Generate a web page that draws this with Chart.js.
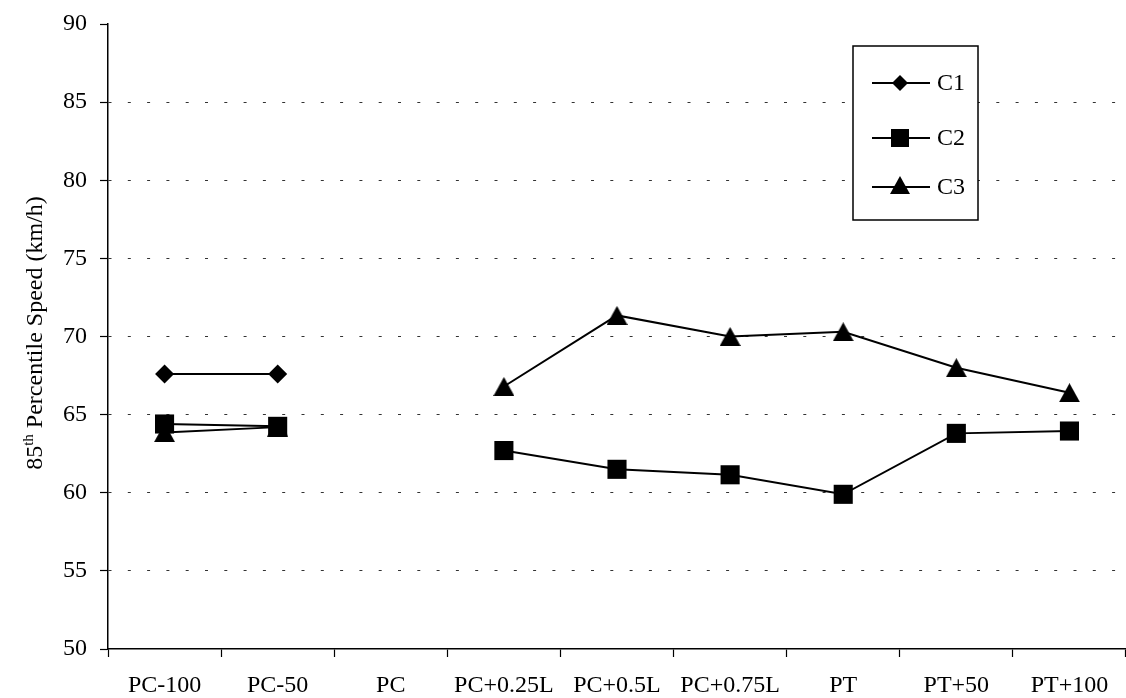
<!DOCTYPE html>
<html>
<head>
<meta charset="utf-8">
<script src="https://cdn.jsdelivr.net/npm/chart.js@4/dist/chart.umd.min.js"></script>
<style>
  html, body { margin: 0; padding: 0; background: #fff; }
  #wrap { width: 1126px; height: 698px; position: relative; }
</style>
</head>
<body>
<div id="wrap"><canvas id="c" width="1126" height="698"></canvas></div>
<script>
const categories = ['PC-100', 'PC-50', 'PC', 'PC+0.25L', 'PC+0.5L', 'PC+0.75L', 'PT', 'PT+50', 'PT+100'];
const c1Values = [67.6, 67.6, null, null, null, null, null, null, null];
const c2Values = [64.4, 64.25, null, 62.7, 61.5, 61.15, 59.9, 63.8, 63.95];
const c3Values = [63.85, 64.2, null, 66.8, 71.35, 70.0, 70.3, 68.0, 66.4];
const seriesNames = ['C1', 'C2', 'C3'];
const yTicks = [50, 55, 60, 65, 70, 75, 80, 85, 90];
const yTitleMain = '85';
const yTitleSup = 'th';
const yTitleRest = ' Percentile Speed (km/h)';

const FONT = '"Liberation Serif", "Times New Roman", serif';

// triangle marker centred on its bounding box
function makeTriangle(w, h) {
  const cv = document.createElement('canvas');
  cv.width = w; cv.height = h;
  const c = cv.getContext('2d');
  c.fillStyle = '#000';
  c.beginPath();
  c.moveTo(w / 2, 0); c.lineTo(w, h); c.lineTo(0, h);
  c.closePath(); c.fill();
  return cv;
}
const triangleImg = makeTriangle(21, 19);

const markerStyles = ['rectRot', 'rect', triangleImg];
const markerRadii = [9.5, 13.5, 10];

function drawMarker(ctx, i, x, y) {
  ctx.beginPath();
  if (i === 0) {
    const r = 8;
    ctx.moveTo(x, y - r); ctx.lineTo(x + r, y); ctx.lineTo(x, y + r); ctx.lineTo(x - r, y);
  } else if (i === 1) {
    const s = 9;
    ctx.rect(x - s, y - s, 2 * s, 2 * s);
  } else {
    const w = 20, h = 18;
    ctx.moveTo(x, y - h / 2 - 2); ctx.lineTo(x + w / 2, y + h / 2 - 2); ctx.lineTo(x - w / 2, y + h / 2 - 2);
  }
  ctx.closePath();
  ctx.fill();
}

const customPlugin = {
  id: 'custom',
  afterDraw(chart) {
    const ctx = chart.ctx;
    ctx.save();
    // Y-axis title with superscript
    ctx.translate(42, 333);
    ctx.rotate(-Math.PI / 2);
    ctx.fillStyle = '#000';
    ctx.textBaseline = 'alphabetic';
    ctx.font = '24px ' + FONT;
    const wMain = ctx.measureText(yTitleMain).width;
    ctx.font = '15px ' + FONT;
    const wSup = ctx.measureText(yTitleSup).width;
    ctx.font = '24px ' + FONT;
    const wRest = ctx.measureText(yTitleRest).width;
    let x0 = -(wMain + wSup + wRest) / 2;
    ctx.textAlign = 'left';
    ctx.fillText(yTitleMain, x0, 0);
    ctx.font = '15px ' + FONT;
    ctx.fillText(yTitleSup, x0 + wMain, -9);
    ctx.font = '24px ' + FONT;
    ctx.fillText(yTitleRest, x0 + wMain + wSup, 0);
    ctx.restore();

    // Legend
    ctx.save();
    ctx.fillStyle = '#fff';
    ctx.fillRect(853, 46, 125, 174);
    ctx.strokeStyle = '#000';
    ctx.lineWidth = 1.5;
    ctx.strokeRect(853, 46, 125, 174);
    const rowsY = [83, 138, 187];
    chart.data.datasets.forEach((ds, i) => {
      const y = rowsY[i];
      ctx.strokeStyle = '#000';
      ctx.lineWidth = 2;
      ctx.beginPath(); ctx.moveTo(872, y); ctx.lineTo(930, y); ctx.stroke();
      ctx.fillStyle = '#000';
      drawMarker(ctx, i, 900, y);
      ctx.font = '24px ' + FONT;
      ctx.textBaseline = 'middle';
      ctx.textAlign = 'left';
      ctx.fillText(ds.label, 937, y + 1);
    });
    ctx.restore();
  }
};

const datasets = [c1Values, c2Values, c3Values].map((vals, i) => ({
  label: seriesNames[i],
  data: vals,
  borderColor: '#000',
  backgroundColor: '#000',
  borderWidth: 2,
  pointStyle: markerStyles[i],
  pointRadius: markerRadii[i],
  pointHoverRadius: markerRadii[i],
  pointBackgroundColor: '#000',
  pointBorderColor: '#000',
  pointBorderWidth: 0,
  spanGaps: false,
  tension: 0,
  clip: false
}));

new Chart(document.getElementById('c'), {
  type: 'line',
  data: { labels: categories, datasets },
  plugins: [customPlugin],
  options: {
    responsive: false,
    animation: false,
    devicePixelRatio: 1,
    layout: { autoPadding: false, padding: { top: 24, right: 0, left: 0, bottom: 0 } },
    plugins: { legend: { display: false }, tooltip: { enabled: false } },
    scales: {
      x: {
        offset: true,
        grid: {
          offset: true,
          drawOnChartArea: false,
          drawTicks: true,
          tickLength: 8,
          tickColor: '#000',
          tickWidth: 1.2
        },
        border: { display: true, color: '#000', width: 1.5 },
        ticks: {
          color: '#000',
          font: { family: FONT, size: 24 },
          padding: 14,
          maxRotation: 0,
          autoSkip: false
        },
        afterFit(scale) { scale.height = 49; scale.paddingLeft = 0; scale.paddingRight = 0; }
      },
      y: {
        min: 50,
        max: 90,
        afterBuildTicks(scale) { scale.ticks = yTicks.map(v => ({ value: v })); },
        grid: {
          color: (ctx) => (ctx.tick && (ctx.tick.value === 90 || ctx.tick.value === 50)) ? 'rgba(0,0,0,0)' : '#333',
          lineWidth: 1,
          tickBorderDash: [],
          tickColor: '#000',
          tickWidth: 1.2,
          tickLength: 8,
          drawTicks: true
        },
        border: { display: true, color: '#000', width: 1.5, dash: [3, 16.3] },
        ticks: {
          color: '#000',
          font: { family: FONT, size: 24 },
          padding: 13
        },
        afterFit(scale) { scale.width = 108; scale.paddingTop = 0; scale.paddingBottom = 0; }
      }
    }
  }
});
</script>
</body>
</html>
